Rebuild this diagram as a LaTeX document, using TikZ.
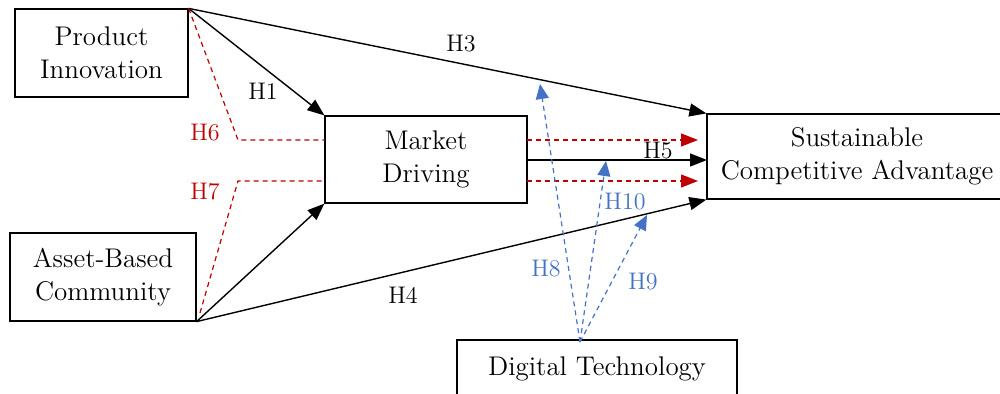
\documentclass[tikz,border=0pt]{standalone}
\usetikzlibrary{arrows.meta}
\definecolor{modred}{HTML}{C00000}
\definecolor{modblue}{HTML}{4472C4}
\begin{document}
\begin{tikzpicture}[x=0.5pt,y=-0.5pt,
  construct/.style={draw,line width=0.6pt,rectangle,align=center,inner sep=0pt,
    font=\fontsize{13.5}{16.5}\selectfont},
  path/.style={line width=0.7pt,-{Triangle[length=8.5pt,width=6.5pt]}},
  modpath/.style={draw=modred,line width=0.6pt,dash pattern=on 2.5pt off 2pt},
  modarrow/.style={modpath,-{Triangle[length=8.5pt,width=6.5pt,fill=modred]}},
  techpath/.style={draw=modblue,line width=0.6pt,dash pattern=on 2.5pt off 2pt,
    -{Triangle[length=7.5pt,width=6.5pt,fill=modblue]}},
  hlabel/.style={font=\fontsize{12}{14}\selectfont,inner sep=0pt}]
\useasboundingbox (0,0) rectangle (1000,394);
\begin{scope}
\clip (0,0) rectangle (1000,394);

% constructs
\node[construct,minimum width=86.5pt,minimum height=44pt] (PI) at (101.5,53) {Product\\Innovation};
\node[construct,minimum width=93pt,minimum height=44pt] (ABC) at (103,277) {Asset-Based\\Community};
\node[construct,minimum width=101pt,minimum height=43.5pt] (MD) at (426,159.5) {Market\\Driving};
\node[construct,minimum width=149pt,minimum height=42.5pt] (SCA) at (856,156.5) {};
\node[font=\fontsize{13.5}{16.5}\selectfont,align=center] (SCAtext) at (857,156) {Sustainable\\Competitive Advantage};
\node[construct,minimum width=140pt,minimum height=40pt] (DT) at (597,380) {};
\node[font=\fontsize{13.5}{16.5}\selectfont] (DTtext) at (597,369) {Digital Technology};

% direct paths
\draw[path] (PI.north east) -- (SCA.north west);
\draw[path] (PI.north east) -- (MD.north west);
\draw[path] (ABC.south east) -- (MD.south west);
\draw[path] (ABC.south east) -- (SCA.south west);
\coordinate (mdE) at (527,160);
\coordinate (scaW) at (707,160);
\draw[path] (mdE) -- (scaW);

% moderation by market driving
\coordinate (b6) at (238,140);
\coordinate (m6) at (325,140);
\coordinate (b7) at (238,181);
\coordinate (m7) at (325,181);
\coordinate (a7) at (200,313);
\draw[modpath] (PI.north east) -- (b6) -- (m6);
\draw[modpath] (a7) -- (b7) -- (m7);
\coordinate (r1s) at (527,140);
\coordinate (r1e) at (698,140);
\coordinate (r2s) at (527,181);
\coordinate (r2e) at (698,181);
\draw[modarrow] (r1s) -- (r1e);
\draw[modarrow] (r2s) -- (r2e);

% digital technology paths
\coordinate (dtTop) at (580,342);
\coordinate (t8) at (540,84);
\coordinate (t10) at (606,161);
\coordinate (t9) at (647,215);
\draw[techpath] (dtTop) -- (t8);
\draw[techpath] (dtTop) -- (t10);
\draw[techpath] (dtTop) -- (t9);

% labels
\node[hlabel] (H1) at (263,91) {H1};
\node[hlabel] (H3) at (461,44) {H3};
\node[hlabel] (H4) at (403,295) {H4};
\node[hlabel] (H5) at (658,151) {H5};
\node[hlabel,text=modred] (H6) at (205,133) {H6};
\node[hlabel,text=modred] (H7) at (205,192) {H7};
\node[hlabel,text=modblue] (H8) at (546,269) {H8};
\node[hlabel,text=modblue] (H9) at (643,282) {H9};
\node[hlabel,text=modblue] (H10) at (625,202) {H10};
\end{scope}
\end{tikzpicture}
\end{document}
